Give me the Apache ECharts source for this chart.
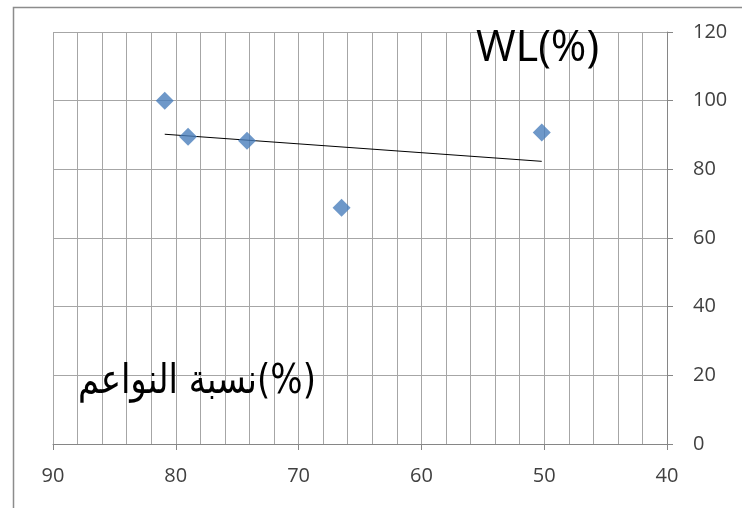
<!DOCTYPE html>
<html>
<head>
<meta charset="utf-8">
<script src="https://cdn.jsdelivr.net/npm/echarts@6/dist/echarts.min.js"></script>
<style>
  html, body { margin: 0; padding: 0; background: #fff; }
  #chart { width: 742px; height: 508px; }
</style>
</head>
<body>
<div id="chart"></div>
<script>
// fines ratio (%) vs WL (%)
const fines = [80.9, 79.0, 74.2, 66.5, 50.2]
const wl = [100, 89.5, 88.3, 68.8, 90.7]
const xTicks = [40, 50, 60, 70, 80, 90]
const yTicks = [0, 20, 40, 60, 80, 100, 120]

const points = fines.map((x, i) => [x, wl[i]])

// linear trend line (least squares)
const n = fines.length
const mx = fines.reduce((a, b) => a + b, 0) / n
const my = wl.reduce((a, b) => a + b, 0) / n
let sxy = 0
let sxx = 0
fines.forEach((x, i) => {
  sxy += (x - mx) * (wl[i] - my)
  sxx += (x - mx) * (x - mx)
})
const slope = sxy / sxx
const xMin = Math.min(...fines)
const xMax = Math.max(...fines)
const trend = [
  [xMax, my + slope * (xMax - mx)],
  [xMin, my + slope * (xMin - mx)],
]

const gridColor = '#a6a6a6'
const labelStyle = { color: '#404040', fontSize: 20, fontFamily: 'Open Sans' }

const chart = echarts.init(document.getElementById('chart'))
chart.setOption({
  animation: false,
  grid: { left: 53, right: 75, top: 32, bottom: 64 },
  xAxis: {
    type: 'value',
    inverse: true,
    min: xTicks[0],
    max: xTicks[xTicks.length - 1],
    interval: 10,
    axisLine: { show: true, onZero: false, lineStyle: { color: '#868686', width: 1 } },
    axisTick: { show: true, length: 6, lineStyle: { color: '#868686' } },
    axisLabel: { margin: 22, ...labelStyle },
    splitLine: { show: true, lineStyle: { color: gridColor, width: 1 } },
    minorTick: { show: false, splitNumber: 5 },
    minorSplitLine: { show: true, lineStyle: { color: gridColor, width: 1 } },
  },
  yAxis: {
    type: 'value',
    position: 'right',
    min: yTicks[0],
    max: yTicks[yTicks.length - 1],
    interval: 20,
    axisLine: { show: true, lineStyle: { color: '#868686', width: 1 } },
    axisTick: { show: true, length: 6, lineStyle: { color: '#868686' } },
    axisLabel: { margin: 26, ...labelStyle },
    splitLine: { show: true, lineStyle: { color: gridColor, width: 1 } },
  },
  graphic: [
    {
      type: 'rect',
      left: 11,
      top: 5,
      shape: { x: 0, y: 0, width: 760, height: 540 },
      style: { fill: 'none', stroke: '#8c8c8c', lineWidth: 1.5 },
      z: 0,
    },
    {
      type: 'text',
      left: 476,
      top: 27,
      style: { text: 'WL(%)', fontSize: 43, fontFamily: 'Open Sans', fill: '#000' },
      z: 10,
    },
    {
      type: 'text',
      left: 78,
      top: 362,
      scaleY: 1.2,
      style: { text: 'نسبة النواعم(%)', fontSize: 34, fontFamily: 'DejaVu Sans', fill: '#000' },
      z: 10,
    },
  ],
  series: [
    {
      type: 'scatter',
      data: points,
      symbol: 'diamond',
      symbolSize: 18,
      itemStyle: { color: '#4a7ebb' },
      z: 3,
    },
    {
      type: 'line',
      data: trend,
      symbol: 'none',
      lineStyle: { color: '#000', width: 1 },
      z: 2,
    },
  ],
})
</script>
</body>
</html>
